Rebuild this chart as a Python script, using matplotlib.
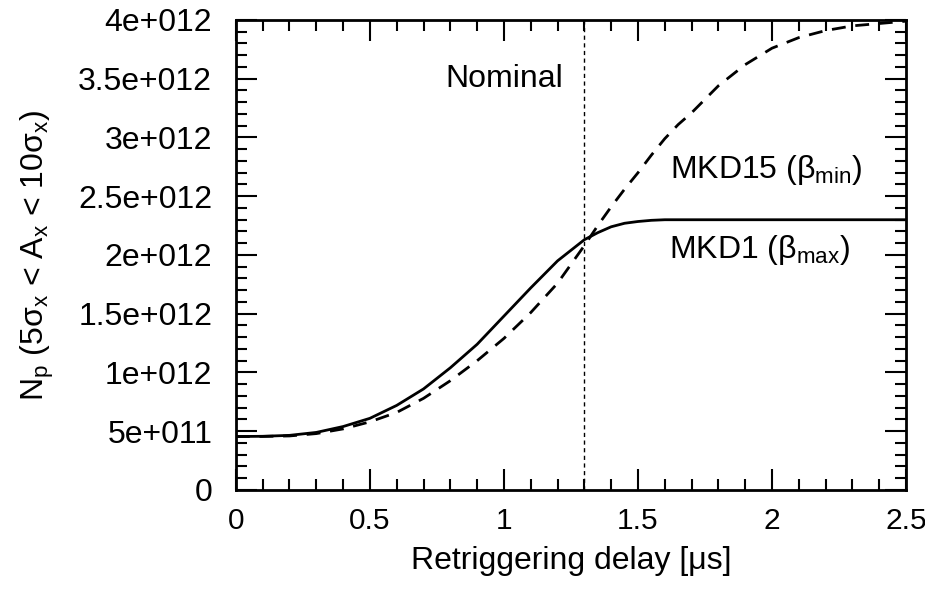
import numpy as np
import matplotlib
matplotlib.use("Agg")
import matplotlib.pyplot as plt
from matplotlib.ticker import MultipleLocator, FuncFormatter

plt.rcParams['font.family'] = ['Liberation Sans', 'DejaVu Sans']
plt.rcParams['mathtext.fontset'] = 'custom'
plt.rcParams['mathtext.rm'] = 'Liberation Sans'
plt.rcParams['mathtext.it'] = 'Liberation Sans'
plt.rcParams['mathtext.default'] = 'regular'

# retriggering delay [us]
delay = [0.0, 0.1, 0.2, 0.3, 0.4, 0.5, 0.6, 0.7, 0.8, 0.9, 1.0, 1.1, 1.2,
         1.25, 1.3, 1.35, 1.4, 1.45, 1.5, 1.55, 1.6, 1.65, 1.7, 1.8, 1.9,
         2.0, 2.1, 2.2, 2.3, 2.4, 2.5]
# particles, in units of 1e12
mkd1 = [0.455, 0.457, 0.465, 0.49, 0.54, 0.61, 0.72, 0.86, 1.04, 1.24, 1.48,
        1.72, 1.95, 2.04, 2.13, 2.19, 2.24, 2.27, 2.285, 2.295, 2.30, 2.30,
        2.30, 2.30, 2.30, 2.30, 2.30, 2.30, 2.30, 2.30, 2.30]
mkd15 = [0.455, 0.456, 0.46, 0.48, 0.52, 0.58, 0.66, 0.78, 0.93, 1.10, 1.29,
         1.51, 1.76, 1.92, 2.08, 2.25, 2.41, 2.56, 2.70, 2.85, 2.99, 3.11,
         3.21, 3.44, 3.62, 3.76, 3.85, 3.91, 3.95, 3.97, 3.99]
nominal = 1.3

def sci_fmt(v, pos):
    if v == 0:
        return '0'
    exp = int(np.floor(np.log10(abs(v)) + 1e-9))
    mant = v / 10**exp
    m = ('%.1f' % mant).rstrip('0').rstrip('.')
    return '%se+%03d' % (m, exp)

fs = 23
fig = plt.figure(figsize=(9.25, 5.93), dpi=100)
ax = fig.add_axes([0.255, 0.1737, 0.7245, 0.7926])

x = np.array(delay)
ax.plot(x, np.array(mkd1) * 1e12, color='black', lw=2.0)
ax.plot(x, np.array(mkd15) * 1e12, color='black', lw=2.0, dashes=[5, 3.5])
ax.axvline(nominal, color='black', lw=1.0, dashes=[3, 2.5])

ax.text(1.0, 3.5e12, 'Nominal', ha='center', va='center', fontsize=fs)
ax.text(1.98, 2.72e12, r'MKD15 ($\beta_{min}$)', ha='center', va='center', fontsize=fs)
ax.text(1.955, 2.04e12, r'MKD1 ($\beta_{max}$)', ha='center', va='center', fontsize=fs)

ax.set_xlim(0, 2.5)
ax.set_ylim(0, 4e12)
ax.xaxis.set_major_locator(MultipleLocator(0.5))
ax.xaxis.set_minor_locator(MultipleLocator(0.1))
ax.xaxis.set_major_formatter(FuncFormatter(lambda v, p: '%g' % v))
ax.yaxis.set_major_locator(MultipleLocator(5e11))
ax.yaxis.set_minor_locator(MultipleLocator(1e11))
ax.yaxis.set_major_formatter(FuncFormatter(sci_fmt))
ax.tick_params(which='both', direction='in', top=True, right=True,
               labelsize=fs, width=1.5)
ax.tick_params(axis='x', pad=12, labelsize=21.5)
ax.tick_params(axis='y', pad=17)
ax.tick_params(which='major', length=15)
ax.tick_params(which='minor', length=8)
for s in ax.spines.values():
    s.set_linewidth(2)

ax.set_xlabel(r'Retriggering delay [μs]', fontsize=fs, labelpad=8)
ax.set_ylabel(r'N$_p$ (5σ$_x$ < A$_x$ < 10σ$_x$)', fontsize=fs, labelpad=16)

fig.savefig('out.png', dpi=100)
